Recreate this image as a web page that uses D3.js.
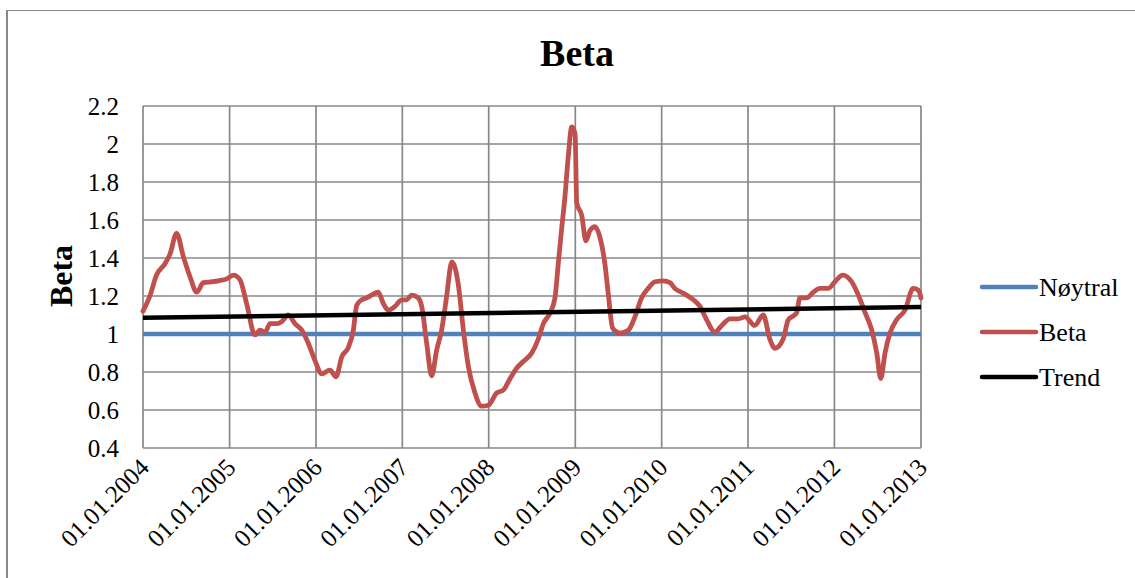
<!DOCTYPE html>
<html>
<head>
<meta charset="utf-8">
<script src="https://cdn.jsdelivr.net/npm/d3@7"></script>
<style>
  html, body { margin: 0; padding: 0; background: #fff; }
  svg { display: block; }
</style>
</head>
<body>
<svg id="chart" width="1135" height="578"></svg>
<script>
// ---- data ----
const chartTitle = "Beta";
const yAxisTitle = "Beta";
const seriesNames = ["Nøytral", "Beta", "Trend"];
const xTickLabels = ["01.01.2004","01.01.2005","01.01.2006","01.01.2007","01.01.2008","01.01.2009","01.01.2010","01.01.2011","01.01.2012","01.01.2013"];
const yTickValues = [0.4, 0.6, 0.8, 1, 1.2, 1.4, 1.6, 1.8, 2, 2.2];

const betaDates = [
  "2004-01-01","2004-01-30","2004-02-27","2004-04-03","2004-04-24","2004-05-22","2004-06-19","2004-07-18",
  "2004-08-15","2004-09-12","2004-10-17","2004-11-14","2004-12-20","2005-01-17","2005-02-14","2005-03-14",
  "2005-04-18","2005-05-09","2005-05-31","2005-06-21","2005-07-19","2005-08-09","2005-09-06","2005-10-04",
  "2005-11-02","2005-11-30","2005-12-28","2006-01-25","2006-03-01","2006-03-27","2006-04-20","2006-05-18",
  "2006-06-08","2006-06-22","2006-07-13","2006-08-03","2006-08-24","2006-09-21","2006-10-13","2006-11-03",
  "2006-12-01","2006-12-29","2007-01-19","2007-02-10","2007-03-09","2007-03-24","2007-04-14","2007-05-05",
  "2007-05-26","2007-06-16","2007-07-07","2007-07-29","2007-08-25","2007-09-16","2007-10-07","2007-11-04",
  "2007-12-02","2007-12-30","2008-02-04","2008-03-03","2008-03-31","2008-04-28","2008-05-26","2008-07-01",
  "2008-07-29","2008-08-19","2008-09-16","2008-10-07","2008-10-21","2008-11-04","2008-11-18","2008-12-02",
  "2008-12-17","2008-12-31","2009-01-07","2009-01-28","2009-02-15","2009-03-04","2009-03-25","2009-04-15",
  "2009-05-06","2009-05-20","2009-06-08","2009-07-09","2009-08-13","2009-09-10","2009-10-08","2009-11-05",
  "2009-12-04","2010-01-08","2010-02-05","2010-02-26","2010-04-02","2010-05-15","2010-06-12","2010-07-10",
  "2010-08-14","2010-09-12","2010-10-17","2010-11-21","2010-12-19","2011-01-30","2011-03-06","2011-04-04",
  "2011-04-25","2011-05-30","2011-06-20","2011-07-25","2011-08-08","2011-09-06","2011-10-04","2011-11-01",
  "2011-12-06","2012-01-03","2012-02-05","2012-03-14","2012-04-11","2012-05-09","2012-06-07","2012-06-28",
  "2012-07-15","2012-08-02","2012-08-23","2012-09-20","2012-10-25","2012-11-29","2012-12-21","2013-01-01"
];
const betaValues = [
  1.12, 1.20, 1.31, 1.37, 1.42, 1.53, 1.41, 1.30,
  1.22, 1.27, 1.275, 1.28, 1.29, 1.31, 1.285, 1.16,
  0.995, 1.02, 1.01, 1.055, 1.055, 1.065, 1.10, 1.055,
  1.02, 0.95, 0.86, 0.79, 0.81, 0.775, 0.88, 0.93,
  1.02, 1.15, 1.18, 1.19, 1.205, 1.22, 1.16, 1.125,
  1.145, 1.18, 1.18, 1.205, 1.19, 1.145, 0.95, 0.78,
  0.915, 1.02, 1.195, 1.38, 1.265, 1.02, 0.83, 0.69,
  0.62, 0.625, 0.69, 0.705, 0.765, 0.82, 0.855, 0.90,
  0.975, 1.055, 1.11, 1.19, 1.37, 1.55, 1.72, 1.93,
  2.09, 2.055, 1.69, 1.625, 1.49, 1.545, 1.565, 1.51,
  1.37, 1.215, 1.03, 1.005, 1.02, 1.09, 1.19, 1.24,
  1.275, 1.28, 1.27, 1.24, 1.215, 1.18, 1.145, 1.075,
  1.01, 1.045, 1.08, 1.08, 1.09, 1.045, 1.10, 0.97,
  0.925, 0.975, 1.075, 1.11, 1.19, 1.19, 1.22, 1.24,
  1.24, 1.275, 1.31, 1.275, 1.205, 1.115, 1.02, 0.90,
  0.765, 0.90, 1.005, 1.075, 1.125, 1.24, 1.23, 1.19
];
const neutralDates = ["2004-01-01", "2013-01-01"];
const neutralValues = [1, 1];
const trendDates = ["2004-01-01", "2013-01-01"];
const trendValues = [1.085, 1.142];

// ---- layout ----
const FONT = "Liberation Serif";
const svg = d3.select("#chart");
const plot = { left: 143, right: 921, top: 106, bottom: 448 };
const parse = d3.timeParse("%Y-%m-%d");
const xTickDates = xTickLabels.map(s => d3.timeParse("%d.%m.%Y")(s));

const x = d3.scaleTime()
  .domain([xTickDates[0], xTickDates[xTickDates.length - 1]])
  .range([plot.left, plot.right]);
const y = d3.scaleLinear().domain([0.4, 2.2]).range([plot.bottom, plot.top]);

const gridColor = "#888888";

// outer chart border (extends past right/bottom edges)
svg.append("rect")
  .attr("x", 7).attr("y", 10.5).attr("width", 1400).attr("height", 800)
  .attr("fill", "none").attr("stroke", gridColor).attr("stroke-width", 1);
svg.append("line").attr("x1", 7).attr("x2", 7).attr("y1", 10).attr("y2", 578)
  .attr("stroke", gridColor).attr("stroke-width", 2);

// title
svg.append("text")
  .attr("x", 577).attr("y", 66)
  .attr("text-anchor", "middle")
  .style("font-family", FONT)
  .style("font-size", "38px").style("font-weight", "bold")
  .attr("fill", "#000")
  .text(chartTitle);

// grid
const grid = svg.append("g");
grid.selectAll("line.h").data(yTickValues).enter().append("line")
  .attr("x1", plot.left).attr("x2", plot.right)
  .attr("y1", d => y(d)).attr("y2", d => y(d))
  .attr("stroke", gridColor).attr("stroke-width", 1.7);
grid.selectAll("line.v").data(xTickDates).enter().append("line")
  .attr("x1", d => x(d)).attr("x2", d => x(d))
  .attr("y1", plot.top).attr("y2", plot.bottom)
  .attr("stroke", gridColor).attr("stroke-width", 1.7);

// y axis
const yAxis = d3.axisLeft(y).tickValues(yTickValues).tickSize(0).tickPadding(0)
  .tickFormat(d => String(+d.toFixed(1)));
const yg = svg.append("g").attr("transform", `translate(${plot.left - 24},0)`).call(yAxis);
yg.select(".domain").remove();
yg.selectAll("text")
  .style("font-family", FONT)
  .style("font-size", "25px")
  .attr("fill", "#000")
  .attr("dy", "0.33em");

// y axis title
svg.append("text")
  .attr("transform", "translate(72,276) rotate(-90)")
  .attr("text-anchor", "middle")
  .style("font-family", FONT)
  .style("font-size", "32px").style("font-weight", "bold")
  .attr("fill", "#000")
  .text(yAxisTitle);

// x axis
const xAxis = d3.axisBottom(x).tickValues(xTickDates).tickSize(0).tickPadding(0)
  .tickFormat((d, i) => xTickLabels[i]);
const xg = svg.append("g").attr("transform", `translate(0,${plot.bottom})`).call(xAxis);
xg.select(".domain").remove();
xg.selectAll("text")
  .style("font-family", FONT)
  .style("font-size", "25px")
  .attr("fill", "#000")
  .attr("text-anchor", "end")
  .attr("dy", null)
  .attr("y", 0)
  .attr("transform", "translate(7,21) rotate(-45)");

// lines
const line = d3.line().x(d => x(d[0])).y(d => y(d[1]));
const zip = (ds, vs) => ds.map((d, i) => [parse(d), vs[i]]);

svg.append("path")
  .datum(zip(neutralDates, neutralValues))
  .attr("d", line)
  .attr("fill", "none").attr("stroke", "#4F81BD").attr("stroke-width", 4.5);

svg.append("path")
  .datum(zip(betaDates, betaValues))
  .attr("d", d3.line().x(d => x(d[0])).y(d => y(d[1])).curve(d3.curveMonotoneX))
  .attr("fill", "none").attr("stroke", "#C0504D").attr("stroke-width", 4.8)
  .attr("stroke-linejoin", "round").attr("stroke-linecap", "round");

svg.append("path")
  .datum(zip(trendDates, trendValues))
  .attr("d", line)
  .attr("fill", "none").attr("stroke", "#000").attr("stroke-width", 4.5);

// legend
const legendColors = ["#4F81BD", "#C0504D", "#000000"];
const legY = [287, 332, 377];
const leg = svg.append("g");
seriesNames.forEach((name, i) => {
  leg.append("line")
    .attr("x1", 982).attr("x2", 1036).attr("y1", legY[i]).attr("y2", legY[i])
    .attr("stroke", legendColors[i]).attr("stroke-width", 4.5).attr("stroke-linecap", "round");
  leg.append("text")
    .attr("x", 1039).attr("y", legY[i]).attr("dy", "0.35em")
    .style("font-family", FONT)
    .style("font-size", "26px")
    .attr("fill", "#000")
    .text(name);
});
</script>
</body>
</html>
